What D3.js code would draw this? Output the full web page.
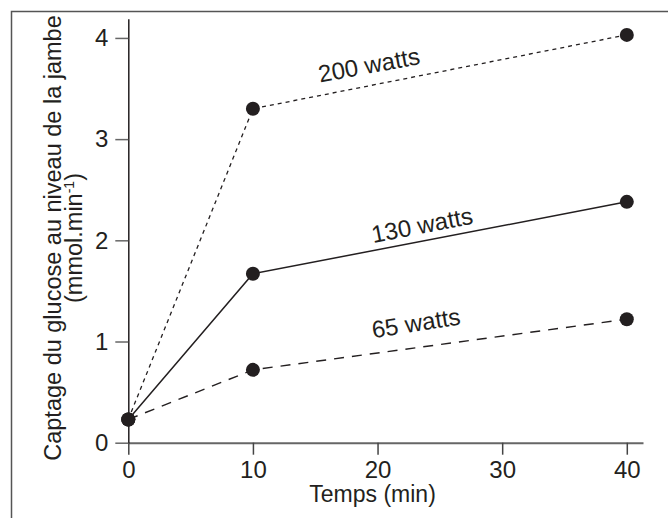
<!DOCTYPE html>
<html>
<head>
<meta charset="utf-8">
<script src="https://cdn.jsdelivr.net/npm/d3@7"></script>
<style>
  body { margin: 0; background: #fff; }
  text { font-family: "Liberation Sans", Arial, sans-serif; fill: #231f20; }
</style>
</head>
<body>
<svg id="chart" width="668" height="518"></svg>
<script>
// Data
var times = [0, 10, 40];
var series = ["200 watts", "130 watts", "65 watts"];
var w200 = [0.23, 3.30, 4.03];
var w130 = [0.23, 1.67, 2.38];
var w65 = [0.23, 0.72, 1.22];
var xTicks = [0, 10, 20, 30, 40];
var yTicks = [0, 1, 2, 3, 4];

var svg = d3.select("#chart");

// Frame (runs off the right and bottom edges)
svg.append("rect")
    .attr("x", 11.5).attr("y", 11.5)
    .attr("width", 700).attr("height", 560)
    .attr("fill", "none")
    .attr("stroke", "#555")
    .attr("stroke-width", 1.5);

// Scales
var x = d3.scaleLinear().domain([0, 41.3]).range([128.3, 643]);
var y = d3.scaleLinear().domain([0, 4.19]).range([442.7, 18.7]);

// x axis
var xAxis = svg.append("g")
    .attr("transform", "translate(0," + y(0) + ")")
    .call(d3.axisBottom(x).tickValues(xTicks).tickFormat(d3.format("d"))
        .tickSize(12).tickSizeOuter(0).tickPadding(6));
xAxis.select(".domain").attr("stroke", "#666").attr("stroke-width", 2);
xAxis.selectAll(".tick line").attr("stroke", "#444").attr("stroke-width", 1.5);
xAxis.selectAll(".tick text")
    .attr("font-size", 24).attr("font-family", null).attr("fill", "#231f20");

// y axis
var yAxis = svg.append("g")
    .attr("transform", "translate(" + x(0) + ",0)")
    .call(d3.axisLeft(y).tickValues(yTicks).tickFormat(d3.format("d"))
        .tickSize(13).tickSizeOuter(0).tickPadding(7));
yAxis.select(".domain").attr("stroke", "#231f20").attr("stroke-width", 1.5);
yAxis.selectAll(".tick line").attr("stroke", "#666").attr("stroke-width", 1.5);
yAxis.selectAll(".tick text")
    .attr("font-size", 24).attr("font-family", null).attr("fill", "#231f20");

// Axis titles
svg.append("text")
    .attr("x", x(20) - 5)
    .attr("y", 502)
    .attr("text-anchor", "middle")
    .attr("font-size", 23)
    .text("Temps (min)");

var yTitle = svg.append("text")
    .attr("transform", "translate(61," + 238 + ") rotate(-90)")
    .attr("text-anchor", "middle")
    .attr("font-size", 23.5);
yTitle.append("tspan").attr("x", 0).attr("y", 0)
    .text("Captage du glucose au niveau de la jambe");
var sub = yTitle.append("tspan").attr("x", 0).attr("y", 21);
sub.append("tspan").text("(mmol.min");
sub.append("tspan").attr("font-size", 14).attr("dy", -8).text("-1");
sub.append("tspan").attr("dy", 8).text(")");

// Lines
var line = d3.line()
    .x(function (d, i) { return x(times[i]); })
    .y(function (d) { return y(d); });

var data = [w200, w130, w65];
var dashes = ["4,4", null, "10,8"];
var widths = [1.3, 1.5, 1.4];

svg.selectAll(".serie")
    .data(data)
    .enter().append("path")
    .attr("class", "serie")
    .attr("d", line)
    .attr("fill", "none")
    .attr("stroke", "#231f20")
    .attr("stroke-width", function (d, i) { return widths[i]; })
    .attr("stroke-dasharray", function (d, i) { return dashes[i]; });

// Dots
data.forEach(function (vals) {
    svg.selectAll(null)
        .data(vals)
        .enter().append("circle")
        .attr("cx", function (d, i) { return x(times[i]); })
        .attr("cy", function (d) { return y(d); })
        .attr("r", 7)
        .attr("fill", "#231f20");
});

// Series labels
var labelPos = [[369, 65, -10.5], [422, 225, -11], [416, 323, -9]];
svg.selectAll(".lab")
    .data(series)
    .enter().append("text")
    .attr("class", "lab")
    .attr("text-anchor", "middle")
    .attr("font-size", 24)
    .attr("transform", function (d, i) {
        var p = labelPos[i];
        return "translate(" + p[0] + "," + p[1] + ") rotate(" + p[2] + ")";
    })
    .attr("dy", "0.35em")
    .text(function (d) { return d; });
</script>
</body>
</html>
